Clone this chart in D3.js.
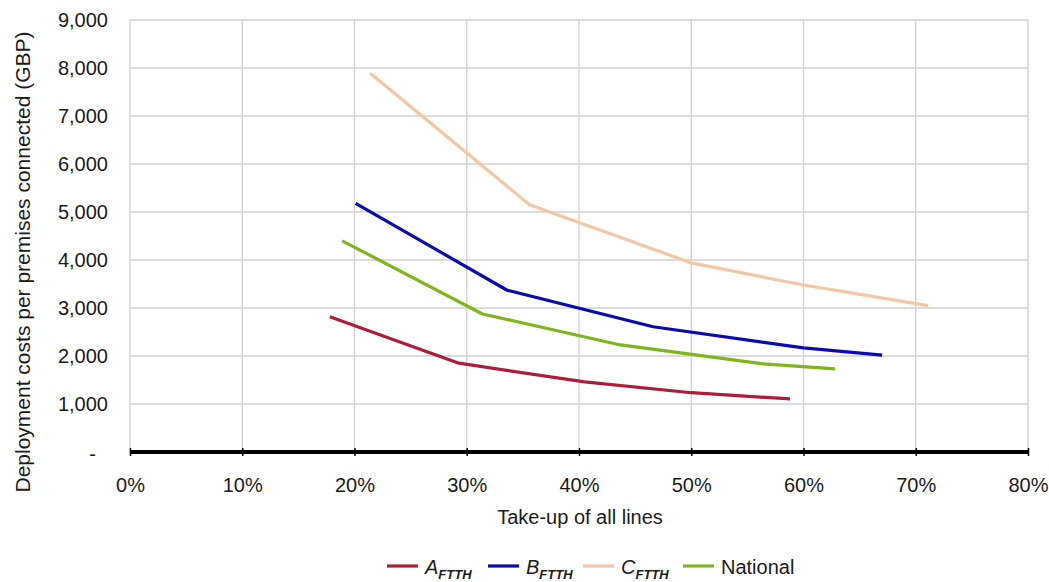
<!DOCTYPE html>
<html><head><meta charset="utf-8">
<script src="https://cdn.jsdelivr.net/npm/d3@7"></script>
<style>
body{margin:0;background:#fff;}
text{font-family:"Liberation Sans",Arial,sans-serif;fill:#1a1a1a;}
</style></head>
<body><svg id="c" width="1049" height="582"></svg>
<script>
// Data (take-up %, cost GBP)
const seriesNames = ["A", "B", "C", "National"];
const A_FTTH = [[17.8,2820],[29.3,1850],[40.5,1460],[50,1235],[58.8,1105]];
const B_FTTH = [[20.1,5180],[33.6,3370],[46.6,2610],[60,2170],[67,2020]];
const C_FTTH = [[21.4,7890],[35.6,5150],[50,3940],[60,3480],[71.1,3050]];
const National = [[18.9,4400],[31.4,2875],[43.7,2230],[56.4,1835],[62.8,1730]];
const xTicks = [0,10,20,30,40,50,60,70,80];
const yTicks = [0,1000,2000,3000,4000,5000,6000,7000,8000,9000];
const colors = ["#ae1c3a","#0a0ab0","#f2c7a6","#80b51e"];

const svg = d3.select("#c");
const L=130,R=1028,T=20,B=452;
const x = d3.scaleLinear().domain([0,80]).range([L,R]);
const y = d3.scaleLinear().domain([0,9000]).range([B,T]);

// grid
svg.append("g").selectAll("line").data(yTicks.slice(1)).join("line")
  .attr("x1",L).attr("x2",R).attr("y1",d=>y(d)).attr("y2",d=>y(d))
  .attr("stroke","#d0d0d0").attr("stroke-width",1.3);
svg.append("g").selectAll("line").data(xTicks).join("line")
  .attr("x1",d=>x(d)).attr("x2",d=>x(d)).attr("y1",T).attr("y2",B)
  .attr("stroke","#d0d0d0").attr("stroke-width",1.3);

// y axis labels
const fmt = d3.format(",");
const yAxis = d3.axisLeft(y).tickValues(yTicks).tickSize(0).tickPadding(22)
  .tickFormat(d=> d===0 ? "-" : fmt(d));
const gy = svg.append("g").attr("transform",`translate(${L},0)`).call(yAxis);
gy.select(".domain").remove();
gy.selectAll("text").style("font-size","20px").attr("font-family","Liberation Sans, Arial").attr("fill","#1a1a1a")
  .attr("dx",d=>d===0? -12 : 0).attr("dy",d=>d===0?"0.4em":"0.32em");

// x axis
const xAxis = d3.axisBottom(x).tickValues(xTicks).tickSize(4).tickPadding(22).tickFormat(d=>d+"%");
const gx = svg.append("g").attr("transform",`translate(0,${B})`).call(xAxis);
gx.select(".domain").attr("stroke","#000").attr("stroke-width",4).attr("d",`M${L},0H${R}`);
gx.selectAll(".tick line").attr("stroke","#000").attr("stroke-width",1.5).attr("y1",-4);
gx.selectAll("text").style("font-size","20px").attr("font-family","Liberation Sans, Arial").attr("fill","#1a1a1a");

// titles
svg.append("text").attr("x",580).attr("y",524).attr("text-anchor","middle")
  .style("font-size","20px").text("Take-up of all lines");
svg.append("text").attr("transform","translate(30,262) rotate(-90)").attr("text-anchor","middle")
  .style("font-size","21px").text("Deployment costs per premises connected (GBP)");

// lines
const line = d3.line().x(d=>x(d[0])).y(d=>y(d[1]));
const data = [A_FTTH,B_FTTH,C_FTTH,National];
svg.append("g").selectAll("path").data(data).join("path")
  .attr("d",line).attr("fill","none").attr("stroke",(d,i)=>colors[i])
  .attr("stroke-width",3.2).attr("stroke-linejoin","round");

// legend
const legX = [387,488,583,683];
const lg = svg.append("g");
seriesNames.forEach((n,i)=>{
  const g = lg.append("g").attr("transform",`translate(${legX[i]},566)`);
  g.append("line").attr("x1",0).attr("x2",31).attr("y1",0).attr("y2",0)
    .attr("stroke",colors[i]).attr("stroke-width",3.2);
  const t = g.append("text").attr("x",38).attr("y",8).style("font-size","20px");
  if(n==="National"){ t.text(n); }
  else {
    t.append("tspan").style("font-style","italic").text(n);
    t.append("tspan").style("font-style","italic").style("font-weight","bold")
      .style("font-size","13px").attr("dy",5).text("FTTH");
  }
});
</script></body></html>
